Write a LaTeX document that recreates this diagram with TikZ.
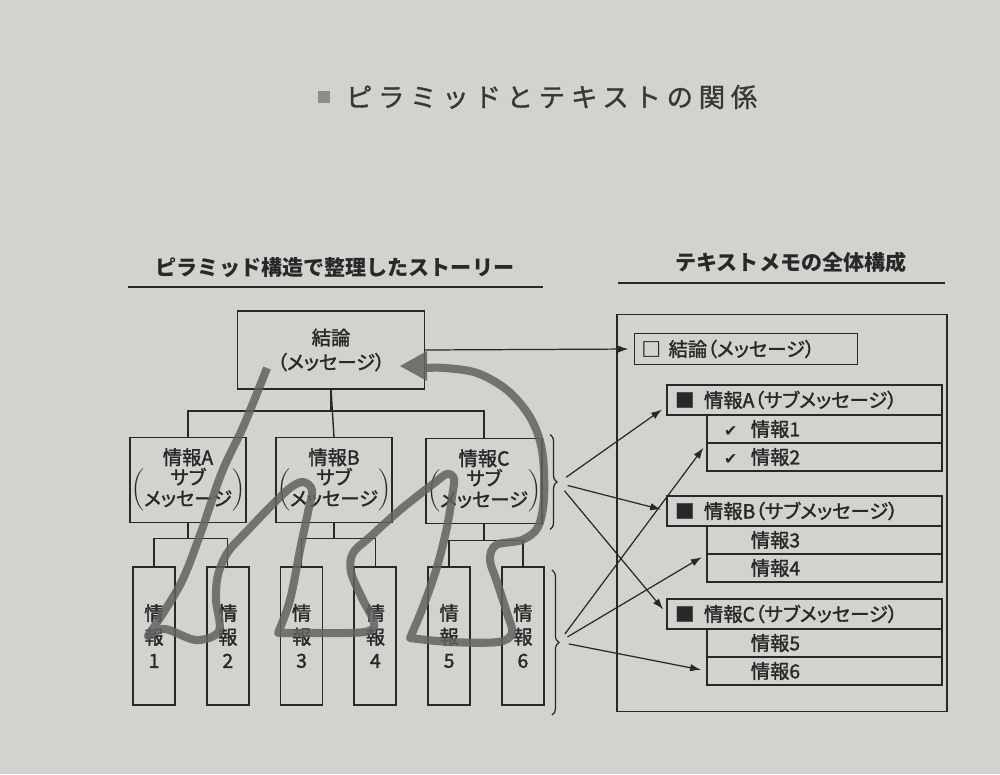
\documentclass[tikz,border=0pt]{standalone}
\usepackage{fontspec}
\setmainfont[RawFeature=+palt, FakeBold=1.6]{Noto Sans CJK JP}
\newfontfamily\plainjp[FakeBold=1.2]{Noto Sans CJK JP}
\newfontfamily\headjp{Noto Sans CJK JP}
\newfontfamily\symfont{DejaVu Sans}
\usetikzlibrary{positioning,calc,arrows.meta,decorations.pathreplacing}
\definecolor{paper}{RGB}{212,210,206}
\definecolor{ink}{RGB}{40,40,40}
\definecolor{pencil}{RGB}{100,98,96}
\newcommand{\subtext}[1]{情報#1\\\def\arraystretch{0.8}$\left(\begin{tabular}{@{}c@{}}サブ\\メッセージ\end{tabular}\right)$}
\newcommand{\chk}{{\symfont\fontsize{9}{11}\selectfont ✔}\hspace{0.7em}}
\newcommand{\nochk}{\phantom{\chk}}
\tikzstyle{box} = [draw=ink, line width=1pt, rectangle, align=center,
  inner sep=0pt, outer sep=0pt, text=ink, font=\fontsize{11}{14}\selectfont]
\tikzstyle{topbox} = [box, minimum width=3.74cm, minimum height=1.56cm]
\tikzstyle{subbox} = [box, minimum width=2.32cm, minimum height=1.7cm]
\tikzstyle{leaf} = [box, minimum width=0.84cm, minimum height=2.76cm, font=\fontsize{11}{13.5}\selectfont]
\tikzstyle{memo} = [box, minimum width=6.6cm, minimum height=7.94cm]
\tikzstyle{mhead} = [box, align=left, text width=4.18cm, inner xsep=0.14cm, minimum height=0.62cm]
\tikzstyle{head} = [box, anchor=north west, align=left, text width=5.18cm, inner xsep=0.16cm, minimum height=0.6cm]
\tikzstyle{row} = [box, align=left, text width=4.02cm, inner xsep=0.34cm, minimum height=0.56cm]
\tikzstyle{heading} = [inner sep=0pt, text=ink, font=\headjp\bfseries\fontsize{12}{14}\selectfont]
\tikzstyle{title} = [inner sep=0pt, text=black!78, font=\plainjp\fontsize{15}{17}\selectfont\addfontfeatures{LetterSpace=22}]
\tikzstyle{titlesq} = [fill=black!45, minimum size=0.25cm, inner sep=0pt]
\tikzstyle{rule} = [draw=ink, line width=0.8pt]
\tikzstyle{link} = [draw=ink, line width=0.8pt]
\tikzstyle{arrow} = [->, draw=ink, line width=0.7pt, shorten <=0.2cm, shorten >=0.12cm]
\tikzstyle{brace} = [draw=ink, line width=0.7pt, decorate, decoration={brace, amplitude=4pt}]
\tikzstyle{story} = [draw=pencil, line width=4.6pt, line join=round, opacity=0.85]

\begin{document}
\begin{tikzpicture}[x=0.02cm, y=-0.02cm, >={Latex[length=0.22cm,width=0.15cm]}, node distance=1.476cm]
  \fill[paper] (0,0) rectangle (1000,774);

  % title and headings
  \node[titlesq] (sq) at (324,97) {};
  \node[title, right=0.3cm of sq] (ttl) {ピラミッドとテキストの関係};
  \node[heading] (hL) at (335,268) {ピラミッド構造で整理したストーリー};
  \node[heading] (hR) at (791,262) {テキストメモの全体構成};
  \draw[rule] (128,287) -- (543,287);
  \draw[rule] (618,283) -- (945,283);

  % pyramid
  \node[topbox] (top) at (331,350) {結論\\（メッセージ）};
  \node[subbox] (jA) at (188,480) {\subtext{A}};
  \node[subbox] (jB) at (334,480) {\subtext{B}};
  \node[subbox] (jC) at (484,481) {\subtext{C}};
  \node[leaf] (i1) at (154,636) {情\\報\\1};
  \node[leaf, right of=i1] (i2) {情\\報\\2};
  \node[leaf, right of=i2] (i3) {情\\報\\3};
  \node[leaf, right of=i3] (i4) {情\\報\\4};
  \node[leaf, right of=i4] (i5) {情\\報\\5};
  \node[leaf, right of=i5] (i6) {情\\報\\6};

  \draw[link] (top.south) -- (jB.north);
  \draw[link] (top.south) -- ++(0,22) -| (jA.north);
  \draw[link] (top.south) -- ++(0,22) -| (jC.north);
  \draw[link] (jA.south) -- ++(0,16) -| (i1.north);
  \draw[link] (jA.south) -- ++(0,16) -| (i2.north);
  \draw[link] (jB.south) -- ++(0,16) -| (i3.north);
  \draw[link] (jB.south) -- ++(0,16) -| (i4.north);
  \draw[link] (jC.south) -- ++(0,17) -| (i5.north);
  \draw[link] (jC.south) -- ++(0,17) -| (i6.north);

  \draw[brace] ($(jC.north east)+(8,-4)$) -- ($(jC.south east)+(8,6)$);
  \draw[brace] ($(i6.north east)+(8,3)$) -- ($(i6.south east)+(8,10)$);
  \coordinate (bC) at ($(jC.east)+(16,2)$);
  \coordinate (b6) at ($(i6.east)+(15,6)$);

  % text memo
  \node[memo] (memo) at (782,513) {};
  \node[mhead] (mK) at (746,349) {□\hspace{0.4em}結論（メッセージ）};
  \node[head] (hA) at (667,385) {■\hspace{0.5em}情報A（サブメッセージ）};
  \node[row, below left=0cm and 0cm of hA.south east] (r1) {\chk 情報1};
  \node[row, below=0cm of r1] (r2) {\chk 情報2};
  \node[head] (hB) at (667,496) {■\hspace{0.5em}情報B（サブメッセージ）};
  \node[row, below left=0cm and 0cm of hB.south east] (r3) {\nochk 情報3};
  \node[row, below=0cm of r3] (r4) {\nochk 情報4};
  \node[head] (hC) at (667,599) {■\hspace{0.5em}情報C（サブメッセージ）};
  \node[row, below left=0cm and 0cm of hC.south east] (r5) {\nochk 情報5};
  \node[row, below=0cm of r5] (r6) {\nochk 情報6};

  \draw[arrow, shorten <=0pt] (top.east) -- (mK.west);
  \draw[arrow] (bC) -- ([yshift=-0.12cm]hA.west);
  \draw[arrow] (bC) -- (hB.west);
  \draw[arrow] (bC) -- (hC.west);
  \draw[arrow] (b6) -- (r2.north west);
  \draw[arrow] (b6) -- (r4.north west);
  \draw[arrow] (b6) -- (r6.west);

  % story line
  \draw[story] plot[smooth, tension=0.55] coordinates {(267,368) (244,425) (222,472) (200,535) (180,585) (148,636)}
    -- plot[smooth, tension=0.55] coordinates {(148,636) (165,629) (196,640) (219,631) (216,600) (218,575) (228,552) (248,530) (270,507) (290,488) (303,482) (312,490) (308,512) (300,550) (290,600) (278,633)}
    -- plot[smooth, tension=0.55] coordinates {(278,633) (313,633) (347,633) (369,631) (374,622) (362,598) (351,572) (353,553) (370,537) (400,510) (433,484) (447,474) (454,479) (452,497) (447,527) (437,567) (423,607) (410,638)}
    -- plot[smooth, tension=0.55] coordinates {(410,638) (450,642) (498,642) (512,633) (507,613) (497,582) (490,560) (496,545) (522,540) (538,527) (544,497) (542,450) (530,417) (507,390) (477,373) (445,368) (426,368)};
  \fill[pencil, opacity=0.85] (400,366) -- (427,351) -- (427,381) -- cycle;
\end{tikzpicture}
\end{document}
